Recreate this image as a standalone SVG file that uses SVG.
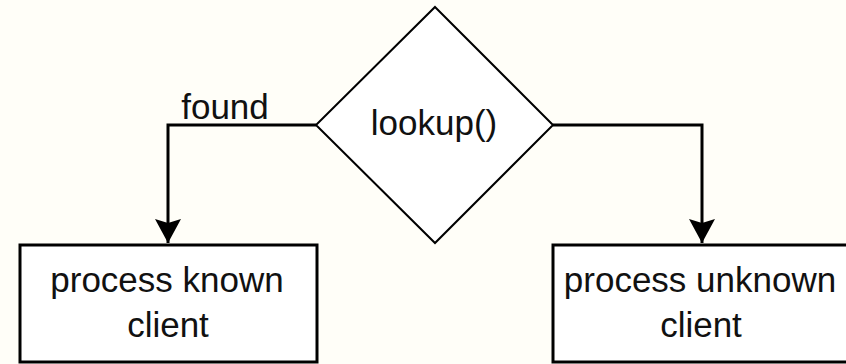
<svg xmlns="http://www.w3.org/2000/svg" width="846" height="364" viewBox="0 0 846 364">
  <style>
    .bg { fill: #fffef8; }
    .box { fill: #ffffff; stroke: #000000; stroke-width: 3; }
    .decision { fill: #ffffff; stroke: #000000; stroke-width: 2; }
    .edge { fill: none; stroke: #000000; stroke-width: 3; }
    .label { font-family: "Liberation Sans", Arial, sans-serif; font-size: 35px; fill: #111111; text-anchor: middle; }
  </style>
  <defs>
    <marker id="arrow" markerUnits="userSpaceOnUse" viewBox="-26 -14 28 28" refX="0" refY="0" markerWidth="28" markerHeight="28" orient="auto">
      <path d="M0,0 L-24,-13 L-20,0 L-24,13 Z" fill="#000000"/>
    </marker>
  </defs>

  <rect class="bg" x="0" y="0" width="846" height="364"/>

  <g id="connectors">
    <polyline class="edge" points="316,125 168,125 168,243" marker-end="url(#arrow)"/>
    <polyline class="edge" points="553,125 702,125 702,243" marker-end="url(#arrow)"/>
    <text class="label" x="225" y="119">found</text>
  </g>

  <g id="lookup">
    <polygon class="decision" points="435,7 553,125 435,243 316,125"/>
    <text class="label" x="434" y="135">lookup()</text>
  </g>

  <g id="known">
    <rect class="box" x="20" y="245" width="297" height="117"/>
    <text class="label" x="167" y="292">process known</text>
    <text class="label" x="168" y="337">client</text>
  </g>

  <g id="unknown">
    <rect class="box" x="553" y="245" width="297" height="117"/>
    <text class="label" x="700" y="292">process unknown</text>
    <text class="label" x="701" y="337">client</text>
  </g>
</svg>
